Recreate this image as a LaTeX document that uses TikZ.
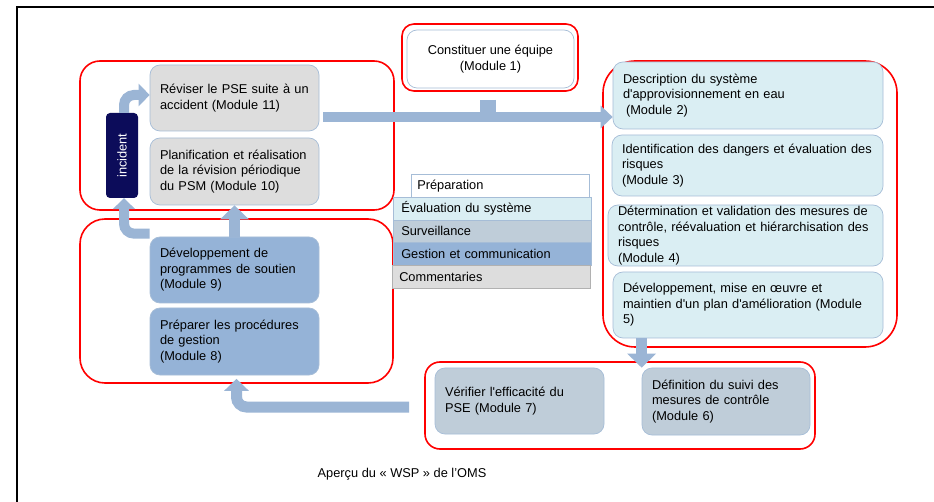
\documentclass[tikz,border=0pt]{standalone}
\usepackage{fontspec}
\setmainfont{Liberation Sans}
\usepackage{xcolor}
\usetikzlibrary{arrows.meta, positioning, calc}
\definecolor{boxline}{RGB}{166,189,215}
\definecolor{lightgrey}{RGB}{221,221,221}
\definecolor{paleblue}{RGB}{218,238,243}
\definecolor{greyblue}{RGB}{191,205,217}
\definecolor{midblue}{RGB}{149,179,215}
\definecolor{arrowblue}{RGB}{155,181,213}
\definecolor{incnavy}{RGB}{12,12,90}

\begin{document}
\begin{tikzpicture}[x=1pt, y=-1pt,
  every node/.style={font=\fontsize{12.8}{15.5}\selectfont},
  group/.style={draw=red, line width=1.6pt, rounded corners=#1, inner sep=0pt},
  group/.default=20pt,
  mod/.style={draw=boxline, line width=0.7pt, rounded corners=10pt, align=left, inner xsep=10pt, inner ysep=0pt},
  legend/.style={draw=boxline, line width=0.5pt, align=left, inner ysep=0pt, anchor=north west},
  bigarrow/.style={draw=arrowblue, line width=11pt, -{Triangle[length=14pt, width=28pt]}},
  thinarrow/.style={draw=arrowblue, line width=10pt, rounded corners=10pt, -{Triangle[length=11pt, width=22pt]}}]
\useasboundingbox (0,0) rectangle (934,502);
\fill[white] (0,0) rectangle (934,502);
% Frame
\draw[line width=2.5pt] (17,502) -- (17,7) -- (934,7);
% Red groups
\node[group, minimum width=314pt, minimum height=149pt] (g1) at (237,135.5) {};
\node[group=25pt, minimum width=313pt, minimum height=164pt] (g2) at (236.5,301) {};
\node[group=12pt, minimum width=176pt, minimum height=67pt] (g3) at (490,57.5) {};
\node[group=32pt, minimum width=294pt, minimum height=286pt] (g4) at (750,204) {};
\node[group=15pt, minimum width=390pt, minimum height=87pt] (g5) at (620,405.5) {};
% Modules, left side
\node[mod, fill=lightgrey, minimum height=66pt, text width=149pt] (m11) at (234.5,98) {Réviser le PSE suite à un\\accident (Module 11)};
\node[mod, fill=lightgrey, minimum height=67pt, text width=149pt] (m10) at (234.5,171.5) {Planification et réalisation\\de la révision périodique\\du PSM (Module 10)};
\node[mod, fill=midblue, minimum height=66pt, text width=149pt] (m9) at (234.5,270) {Développement de\\programmes de soutien\\(Module 9)};
\node[mod, fill=midblue, minimum height=67pt, text width=149pt] (m8) at (234.5,341.5) {Préparer les procédures\\de gestion\\(Module 8)};
\node[fill=incnavy, text=white, rounded corners=4pt, minimum width=32pt, minimum height=85pt, inner sep=0pt] (inc) at (122,155.5) {\rotatebox{90}{incident}};
% Module 1
\node[mod, fill=white, align=center, minimum width=167pt, minimum height=58pt] (m1) at (490.5,59) {Constituer une équipe\\(Module 1)};
% Modules, right side
\node[mod, fill=paleblue, minimum height=67pt, text width=250pt] (m2) at (748,95.5) {Description du système\\d\textquotesingle approvisionnement en eau\\\hspace*{3pt}(Module 2)};
\node[mod, fill=paleblue, minimum height=61pt, text width=251pt] (m3) at (747.5,165.5) {Identification des dangers et évaluation des\\risques\\(Module 3)};
\node[mod, fill=paleblue, minimum height=61pt, text width=255pt] (m4) at (745.5,235.5) {Détermination et validation des mesures de\\contrôle, réévaluation et hiérarchisation des\\risques\\(Module 4)};
\node[mod, fill=paleblue, minimum height=66pt, text width=250pt] (m5) at (748,305) {Développement, mise en œuvre et\\maintien d\textquotesingle un plan d\textquotesingle amélioration (Module\\5)};
% Modules, bottom
\node[mod, fill=greyblue, minimum height=67pt, text width=148pt] (m6) at (726,401.5) {Définition du suivi des\\mesures de contrôle\\(Module 6)};
\node[mod, fill=greyblue, minimum height=66pt, text width=149pt] (m7) at (519.5,401) {Vérifier l\textquotesingle efficacité du\\PSE (Module 7)};
% Arrows
\draw[line width=16pt, arrowblue] ([xshift=-2pt,yshift=-8pt]g3.south) -- ([xshift=-2pt,yshift=-21pt]g3.south);
\draw[draw=arrowblue, line width=10pt, -{Triangle[length=12pt, width=22pt]}] ([xshift=4pt,yshift=-19pt]m11.east) -- ([yshift=-21.5pt]m2.west);
\draw[bigarrow] (m6.north west |- m5.south) -- (m6.north west);
\draw[bigarrow] (m9.north) -- (m10.south);
\draw[thinarrow] ([xshift=2pt]inc.north) |- ([yshift=3pt]m11.west);
\draw[thinarrow] ([yshift=3pt]m9.north west) -| ([xshift=2pt]inc.south);
\draw[thinarrow, line width=11pt, -{Triangle[length=12pt, width=24pt]}] ([xshift=-15pt,yshift=-1.5pt]g5.west) -| ([yshift=5pt]g2.south);
% Legend
\node[legend, fill=white, minimum width=178pt, minimum height=23pt, text width=166pt, inner xsep=6pt] (lprep) at (411,174) {Préparation};
\node[legend, fill=paleblue, minimum width=198pt, minimum height=23pt, text width=182pt, inner xsep=8pt] (leval) at (393,197) {Évaluation du système};
\node[legend, fill=greyblue, minimum width=198pt, minimum height=22pt, text width=182pt, inner xsep=8pt] (lsurv) at (393,220) {Surveillance};
\node[legend, fill=midblue, minimum width=198pt, minimum height=23pt, text width=182pt, inner xsep=8pt] (lgest) at (393,242) {Gestion et communication};
\node[legend, draw=lightgrey!80!black, fill=lightgrey, minimum width=198pt, minimum height=23pt, text width=184pt, inner xsep=7pt] (lcomm) at (392,265) {Commentaries};
% Caption
\node (caption) at (402,474) {Aperçu du « WSP » de l'OMS};
\end{tikzpicture}
\end{document}
